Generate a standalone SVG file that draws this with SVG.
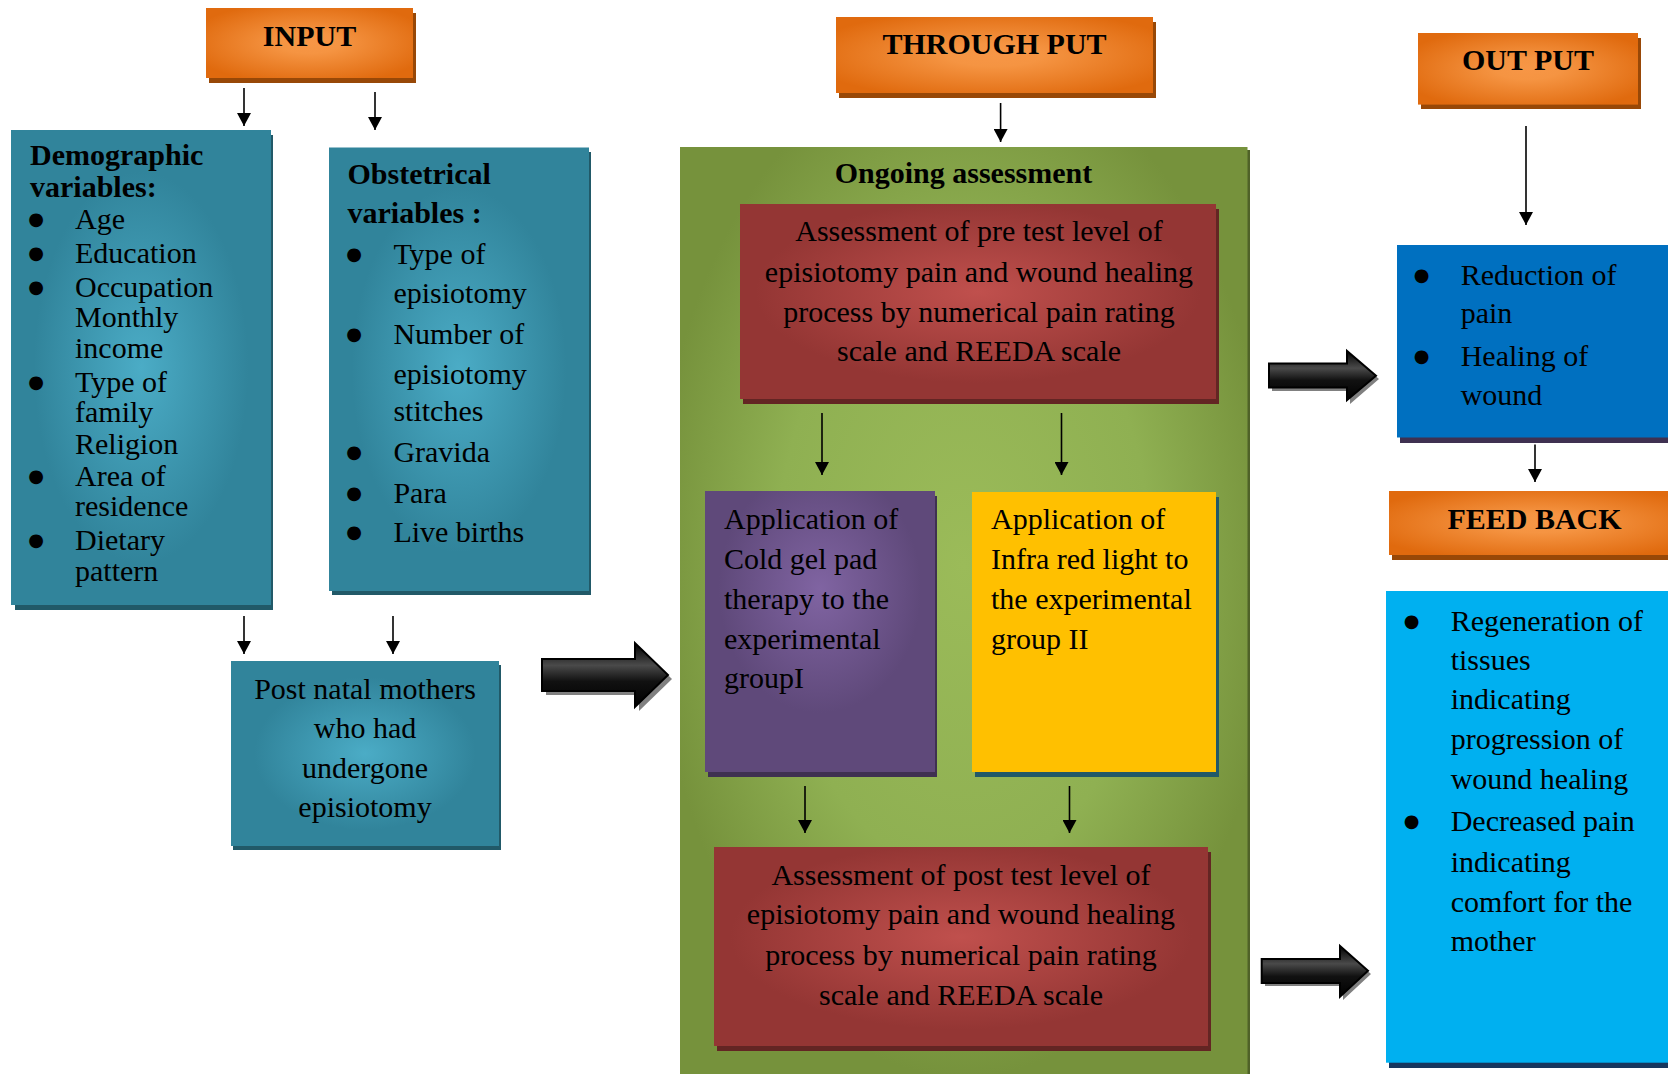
<svg xmlns="http://www.w3.org/2000/svg" width="1668" height="1074" viewBox="0 0 1668 1074">
<defs>
<style>
text{font-family:"Liberation Serif","Times New Roman",serif;font-size:30px;fill:#000}
.b{font-weight:bold}
.c{text-anchor:middle}
.bu{font-family:"DejaVu Sans",sans-serif;font-size:18px;text-anchor:middle}
.ln{stroke:#000;stroke-width:1.6;fill:none;marker-end:url(#ah)}
</style>
<radialGradient id="gOr" cx="50%" cy="50%" r="60%"><stop offset="0" stop-color="#f79646"/><stop offset="0.25" stop-color="#f59442"/><stop offset="1" stop-color="#e06a0e"/></radialGradient>
<radialGradient id="gTe" cx="50%" cy="50%" r="55%"><stop offset="0" stop-color="#4bacc6"/><stop offset="0.75" stop-color="#31849b"/><stop offset="1" stop-color="#31849b"/></radialGradient>
<radialGradient id="gGr" cx="50%" cy="45%" r="55%"><stop offset="0" stop-color="#9bbb59"/><stop offset="0.6" stop-color="#8fb052"/><stop offset="1" stop-color="#76923c"/></radialGradient>
<radialGradient id="gRd" cx="50%" cy="45%" r="55%"><stop offset="0" stop-color="#c0504d"/><stop offset="0.85" stop-color="#943634"/><stop offset="1" stop-color="#943634"/></radialGradient>
<radialGradient id="gPu" cx="50%" cy="35%" r="55%"><stop offset="0" stop-color="#8064a2"/><stop offset="0.8" stop-color="#5f497a"/><stop offset="1" stop-color="#5f497a"/></radialGradient>
<linearGradient id="gAr" x1="0" y1="0" x2="0" y2="1"><stop offset="0" stop-color="#000"/><stop offset="0.35" stop-color="#4a4a4a"/><stop offset="0.6" stop-color="#111"/><stop offset="1" stop-color="#000"/></linearGradient>
<marker id="ah" viewBox="0 0 13 14" refX="13" refY="7" markerWidth="13" markerHeight="14" markerUnits="userSpaceOnUse" orient="auto"><path d="M0,0 L13,7 L0,14 z" fill="#000"/></marker>
</defs>
<rect width="1668" height="1074" fill="#fff"/>

<g id="input">
<rect x="209" y="13" width="207" height="70" fill="#984807"/>
<rect x="206" y="8" width="207" height="70" fill="url(#gOr)"/>
<text class="b c" x="309.5" y="45.5">INPUT</text>
</g>

<g id="demographic">
<rect x="15" y="135" width="258" height="475" fill="#215968"/>
<rect x="11" y="130" width="260" height="475" fill="url(#gTe)"/>
<text class="b" x="30" y="165">Demographic</text>
<text class="b" x="30" y="196.5">variables:</text>
<text class="bu" x="36" y="225.3">●</text><text x="75" y="229">Age</text>
<text class="bu" x="36" y="259.3">●</text><text x="75" y="263">Education</text>
<text class="bu" x="36" y="292.8">●</text><text x="75" y="296.5">Occupation</text>
<text x="75" y="326.6">Monthly</text>
<text x="75" y="358">income</text>
<text class="bu" x="36" y="387.8">●</text><text x="75" y="391.5">Type of</text>
<text x="75" y="422">family</text>
<text x="75" y="454">Religion</text>
<text class="bu" x="36" y="481.9">●</text><text x="75" y="485.6">Area of</text>
<text x="75" y="516">residence</text>
<text class="bu" x="36" y="545.9">●</text><text x="75" y="549.6">Dietary</text>
<text x="75" y="580.5">pattern</text>
</g>

<g id="obstetrical">
<rect x="332" y="152" width="259" height="443" fill="#215968"/>
<rect x="329" y="147.5" width="260" height="443.5" fill="url(#gTe)"/>
<text class="b" x="347.5" y="184">Obstetrical</text>
<text class="b" x="347.5" y="223">variables :</text>
<text class="bu" x="354" y="260.3">●</text><text x="393.4" y="264">Type of</text>
<text x="393.4" y="303">episiotomy</text>
<text class="bu" x="354" y="340.3">●</text><text x="393.4" y="344">Number of</text>
<text x="393.4" y="383.5">episiotomy</text>
<text x="393.4" y="421">stitches</text>
<text class="bu" x="354" y="458.3">●</text><text x="393.4" y="462">Gravida</text>
<text class="bu" x="354" y="499.3">●</text><text x="393.4" y="503">Para</text>
<text class="bu" x="354" y="538.3">●</text><text x="393.4" y="542">Live births</text>
</g>

<g id="postnatal">
<rect x="233" y="665" width="268" height="185" fill="#215968"/>
<rect x="231" y="661" width="268" height="185" fill="url(#gTe)"/>
<text class="c" x="365" y="699">Post natal mothers</text>
<text class="c" x="365" y="738">who had</text>
<text class="c" x="365" y="778">undergone</text>
<text class="c" x="365" y="817">episiotomy</text>
</g>

<g id="throughput">
<rect x="839" y="22" width="317" height="76" fill="#984807"/>
<rect x="836" y="17" width="317" height="76" fill="url(#gOr)"/>
<text class="b c" x="994.5" y="54">THROUGH PUT</text>
</g>

<g id="ongoing">
<rect x="682" y="150" width="568" height="930" fill="#4f6228"/>
<rect x="680" y="147" width="567.5" height="930" fill="url(#gGr)"/>
<text class="b c" x="963.5" y="183">Ongoing assessment</text>
</g>

<g id="pretest">
<rect x="743" y="209" width="476" height="195" fill="#632523"/>
<rect x="740" y="204" width="476" height="195" fill="url(#gRd)"/>
<text class="c" x="979" y="241">Assessment of pre test level of</text>
<text class="c" x="979" y="282">episiotomy pain and wound healing</text>
<text class="c" x="979" y="322">process by numerical pain rating</text>
<text class="c" x="979" y="361">scale and REEDA scale</text>
</g>

<g id="coldgel">
<rect x="708" y="496" width="229" height="281" fill="#3f3151"/>
<rect x="705" y="491" width="230" height="281" fill="url(#gPu)"/>
<text x="724" y="529">Application of</text>
<text x="724" y="569">Cold gel pad</text>
<text x="724" y="609">therapy to the</text>
<text x="724" y="648.6">experimental</text>
<text x="724" y="688">groupI</text>
</g>

<g id="infrared">
<rect x="975" y="497" width="244" height="280" fill="#215968"/>
<rect x="972" y="492" width="244" height="280" fill="#ffc000"/>
<text x="991" y="529">Application of</text>
<text x="991" y="569">Infra red light to</text>
<text x="991" y="609">the experimental</text>
<text x="991" y="648.6">group II</text>
</g>

<g id="posttest">
<rect x="717" y="852" width="494" height="199" fill="#632523"/>
<rect x="714" y="847" width="494" height="199" fill="url(#gRd)"/>
<text class="c" x="961" y="884.5">Assessment of post test level of</text>
<text class="c" x="961" y="924">episiotomy pain and wound healing</text>
<text class="c" x="961" y="965">process by numerical pain rating</text>
<text class="c" x="961" y="1004.6">scale and REEDA scale</text>
</g>

<g id="output">
<rect x="1421" y="38" width="220" height="71" fill="#984807"/>
<rect x="1418" y="33" width="220" height="71.6" fill="url(#gOr)"/>
<text class="b c" x="1528" y="69.6">OUT PUT</text>
</g>

<g id="outcome">
<rect x="1400" y="250" width="290" height="193" fill="#3f3151"/>
<rect x="1397" y="245" width="290" height="192.5" fill="#0070c0"/>
<text class="bu" x="1421.7" y="280.9">●</text><text x="1460.7" y="284.6">Reduction of</text>
<text x="1460.7" y="323">pain</text>
<text class="bu" x="1421.7" y="362.3">●</text><text x="1460.7" y="366">Healing of</text>
<text x="1460.7" y="405">wound</text>
</g>

<g id="feedback">
<rect x="1392" y="496" width="300" height="64" fill="#984807"/>
<rect x="1389" y="491" width="300" height="64" fill="url(#gOr)"/>
<text class="b c" x="1534.5" y="528.6">FEED BACK</text>
</g>

<g id="feedbackbox">
<rect x="1389" y="596" width="300" height="472" fill="#17375e"/>
<rect x="1386" y="591" width="300" height="471.7" fill="#00b0f0"/>
<text class="bu" x="1411.7" y="627">●</text><text x="1450.7" y="630.7">Regeneration of</text>
<text x="1450.7" y="670">tissues</text>
<text x="1450.7" y="709">indicating</text>
<text x="1450.7" y="749">progression of</text>
<text x="1450.7" y="788.7">wound healing</text>
<text class="bu" x="1411.7" y="827">●</text><text x="1450.7" y="830.7">Decreased pain</text>
<text x="1450.7" y="871.7">indicating</text>
<text x="1450.7" y="911.7">comfort for the</text>
<text x="1450.7" y="950.7">mother</text>
</g>

<g id="connectors">
<line class="ln" x1="244" y1="88" x2="244" y2="126"/>
<line class="ln" x1="375" y1="92" x2="375" y2="130"/>
<line class="ln" x1="244" y1="616" x2="244" y2="654"/>
<line class="ln" x1="393" y1="616" x2="393" y2="654"/>
<line class="ln" x1="1000.6" y1="103" x2="1000.6" y2="142"/>
<line class="ln" x1="822" y1="413" x2="822" y2="475"/>
<line class="ln" x1="1061.5" y1="413" x2="1061.5" y2="475"/>
<line class="ln" x1="805" y1="786" x2="805" y2="833"/>
<line class="ln" x1="1069.5" y1="786" x2="1069.5" y2="833"/>
<line class="ln" x1="1526" y1="126" x2="1526" y2="225"/>
<line class="ln" x1="1535" y1="444.6" x2="1535" y2="482"/>
<polygon points="546,663 639,663 639,647 672,679 639,711 639,695 546,695" fill="#808080"/>
<polygon points="542,659 635,659 635,643 668,675 635,707 635,691 542,691" fill="url(#gAr)" stroke="#000" stroke-width="2"/>
<polygon points="1272,367 1350,367 1350,354 1379,379 1350,404 1350,391 1272,391" fill="#808080"/>
<polygon points="1269,363.6 1347,363.6 1347,351 1376,375.7 1347,400 1347,387.5 1269,387.5" fill="url(#gAr)" stroke="#000" stroke-width="2"/>
<polygon points="1265,962 1343,962 1343,949 1371,974 1343,1000 1343,986 1265,986" fill="#808080"/>
<polygon points="1261.7,959 1340,959 1340,946 1368,970.7 1340,996.7 1340,983 1261.7,983" fill="url(#gAr)" stroke="#000" stroke-width="2"/>
</g>
</svg>
